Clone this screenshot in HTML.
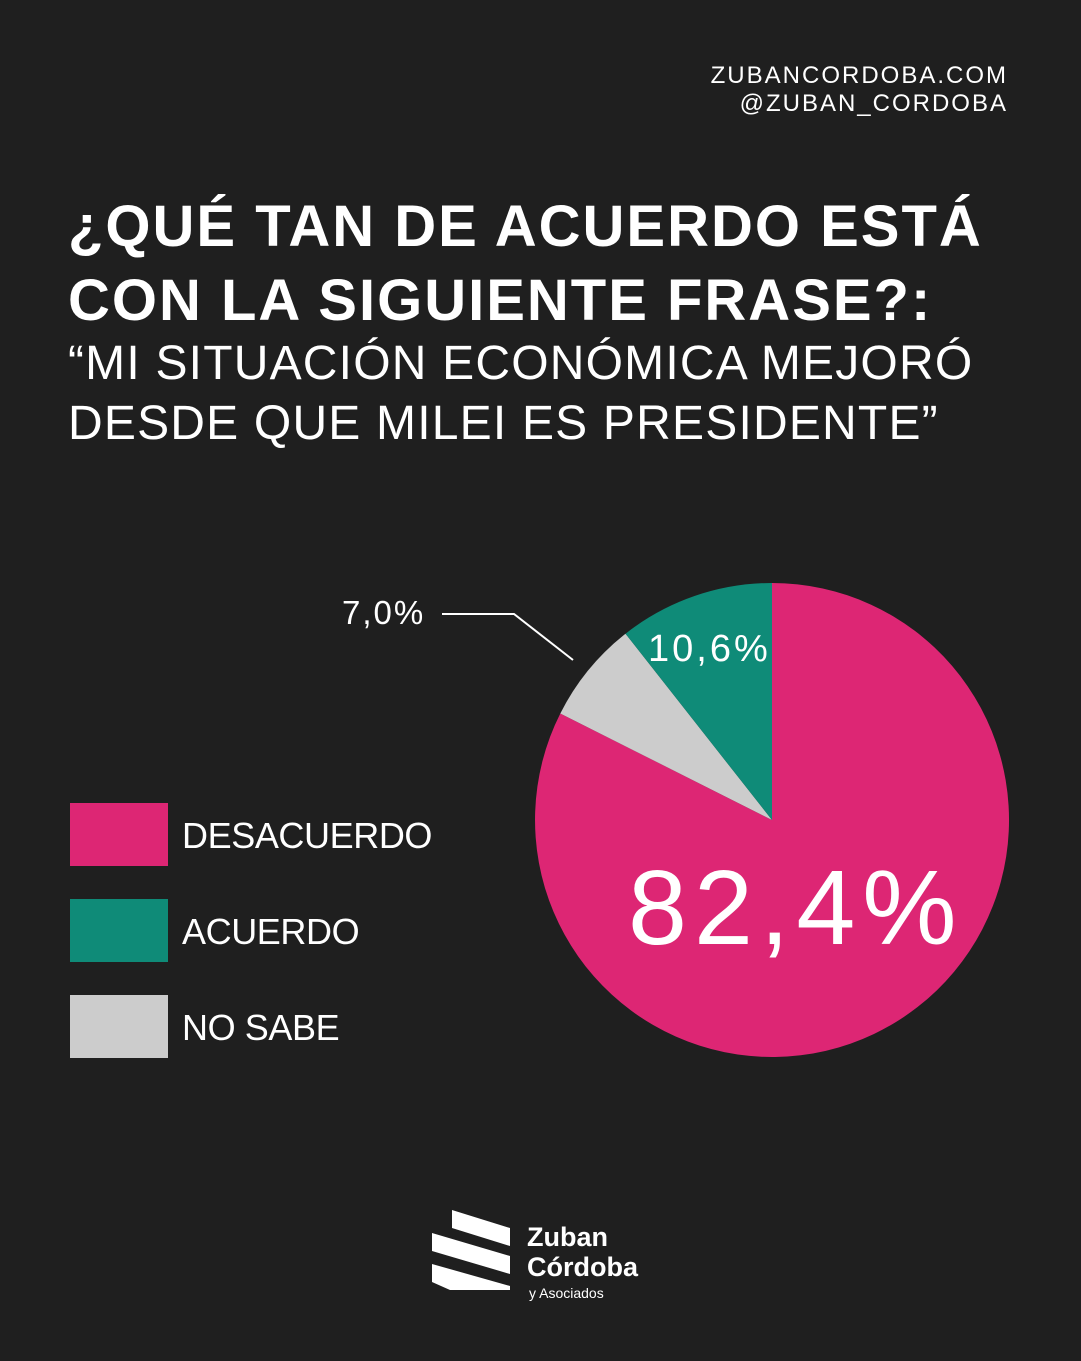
<!DOCTYPE html>
<html><head><meta charset="utf-8"><style>
body{margin:0;width:1081px;height:1361px;background:#1f1f1f;overflow:hidden;font-family:"Liberation Sans",sans-serif;color:#fff;position:relative}
.t{position:absolute;white-space:nowrap}
</style></head><body>
<div class="t" style="right:73px;top:62px;font-size:24px;letter-spacing:2px;text-align:right;line-height:28px">ZUBANCORDOBA.COM<br>@ZUBAN_CORDOBA</div>
<div class="t" style="left:68px;top:190px;font-size:58px;font-weight:bold;line-height:74px;letter-spacing:2px">¿QUÉ TAN DE ACUERDO ESTÁ<br>CON LA SIGUIENTE FRASE?:</div>
<div class="t" style="left:68px;top:334px;font-size:48px;line-height:60px;letter-spacing:1.2px">“MI SITUACIÓN ECONÓMICA MEJORÓ<br>DESDE QUE MILEI ES PRESIDENTE”</div>
<svg width="1081" height="1361" style="position:absolute;left:0;top:0">
<path d="M772,820 L772,583 A237,237 0 1 1 560.3,713.5 Z" fill="#dd2674"/>
<path d="M772,820 L560.3,713.5 A237,237 0 0 1 625.5,633.7 Z" fill="#cccccc"/>
<path d="M772,820 L625.5,633.7 A237,237 0 0 1 772,583 Z" fill="#0f8b78"/>
<polyline points="442,614 514,614 573,660" fill="none" stroke="#fff" stroke-width="2"/>
<rect x="70" y="803" width="98" height="63" fill="#dd2674"/>
<rect x="70" y="899" width="98" height="63" fill="#0f8b78"/>
<rect x="70" y="995" width="98" height="63" fill="#cccccc"/>
<polygon points="452,1210 510,1228 510,1246 452,1228" fill="#fff"/>
<polygon points="432,1233 510,1256 510,1274 432,1251" fill="#fff"/>
<polygon points="432,1264 510,1286 510,1290 450,1290 432,1282" fill="#fff"/>
</svg>
<div class="t" style="left:342px;top:594px;font-size:33px;letter-spacing:2px">7,0%</div>
<div class="t" style="left:648px;top:628px;font-size:38px;letter-spacing:3px">10,6%</div>
<div class="t" style="left:628px;top:848px;font-size:106px;letter-spacing:7px">82,4%</div>
<div class="t" style="left:182px;top:815px;font-size:36px;letter-spacing:-0.4px">DESACUERDO</div>
<div class="t" style="left:182px;top:911px;font-size:36px;letter-spacing:-0.4px">ACUERDO</div>
<div class="t" style="left:182px;top:1007px;font-size:36px;letter-spacing:-0.4px">NO SABE</div>
<div class="t" style="left:527px;top:1222px;font-size:27px;font-weight:bold;line-height:30px">Zuban<br>Córdoba</div>
<div class="t" style="left:529px;top:1285px;font-size:14px">y Asociados</div>
</body></html>
